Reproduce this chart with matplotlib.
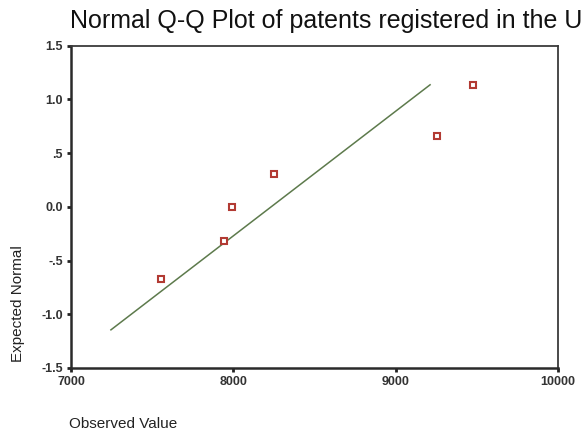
import matplotlib
matplotlib.use("Agg")
import matplotlib.pyplot as plt

plt.rcParams["font.family"] = ["Liberation Sans", "DejaVu Sans"]

observed = [7554, 7945, 7994, 8251, 9253, 9475]
expected = [-0.67, -0.32, 0.0, 0.31, 0.66, 1.13]
# reference line endpoints
line_x = [7246, 9212]
line_y = [-1.145, 1.136]

x_ticks = [7000, 8000, 9000, 10000]
y_ticks = [1.5, 1.0, 0.5, 0.0, -0.5, -1.0, -1.5]
y_labels = ["1.5", "1.0", ".5", "0.0", "-.5", "-1.0", "-1.5"]

fig = plt.figure(figsize=(5.81, 4.36), dpi=100)
ax = fig.add_axes([0.1222, 0.156, 0.8382, 0.7392])

ax.plot(line_x, line_y, color="#5d7a4c", lw=1.1)
ax.plot(observed, expected, ls="none", marker="s", ms=4.5, mfc="white",
        mec="#b23a33", mew=1.5)

ax.set_xlim(7000, 10000)
ax.set_ylim(-1.5, 1.5)
ax.set_xticks(x_ticks)
ax.set_yticks(y_ticks)
ax.set_yticklabels(y_labels)
ax.tick_params(direction="out", length=3, width=2, colors="#222",
               labelsize=9, pad=3)
for lab in ax.get_xticklabels() + ax.get_yticklabels():
    lab.set_fontweight("bold")
    lab.set_color("#333")

for side in ["left", "bottom"]:
    ax.spines[side].set_linewidth(1.8)
    ax.spines[side].set_color("#2a2a2a")
for side in ["top", "right"]:
    ax.spines[side].set_linewidth(1.3)
    ax.spines[side].set_color("#3a3a3a")

fig.text(0.121, 0.936, "Normal Q-Q Plot of patents registered in the US",
         fontsize=18, color="#111", va="baseline", ha="left")
fig.text(0.031, 0.303, "Expected Normal", rotation=90, fontsize=11,
         color="#222", va="center", ha="center")
fig.text(0.119, 0.027, "Observed Value", fontsize=11, color="#222",
         va="center", ha="left")

fig.savefig("out.png", dpi=100, facecolor="white")
